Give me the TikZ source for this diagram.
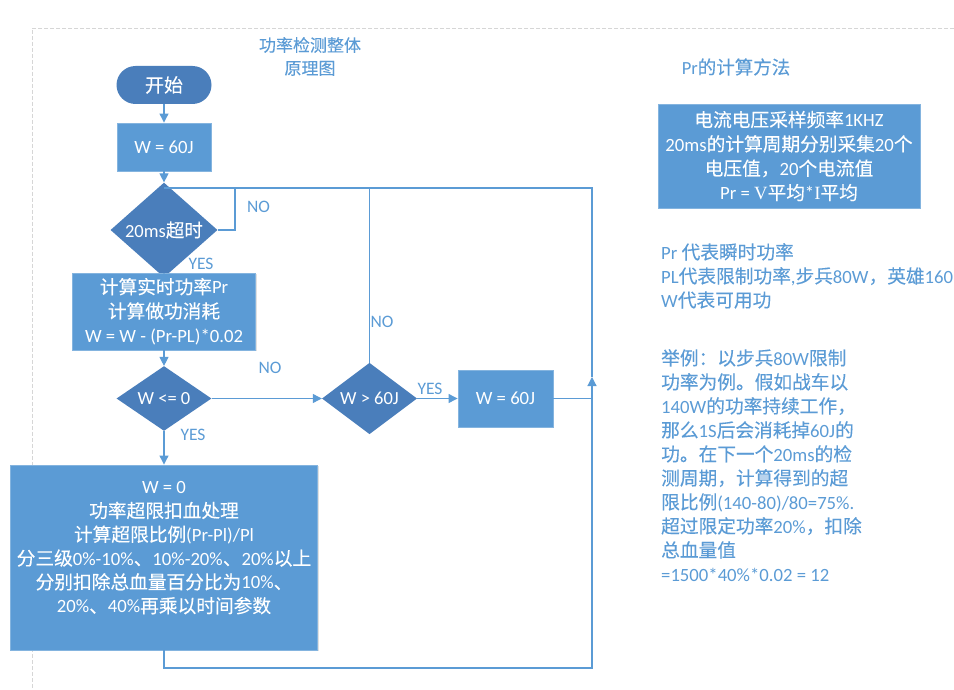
\documentclass[tikz,border=0pt]{standalone}
\usepackage{fontspec}
\usetikzlibrary{shapes.geometric,arrows.meta,shadows}
\setmainfont{Carlito}
\newfontfamily\cjk{Noto Sans CJK SC}[FakeBold=0.2]
\newfontfamily\latinf{Carlito}
\newfontfamily\serifl{Liberation Serif}
\XeTeXinterchartokenstate=1
\newXeTeXintercharclass\cjkcls
\newcount\cjkcnt
\def\setcjkrange#1#2{\cjkcnt=#1\relax\loop\XeTeXcharclass\cjkcnt=\cjkcls\relax\ifnum\cjkcnt<#2\relax\advance\cjkcnt by 1\relax\repeat}
\setcjkrange{"4E00}{"9FFF}
\setcjkrange{"3000}{"303F}
\setcjkrange{"FF00}{"FFEF}
\XeTeXinterchartoks 0 \cjkcls = {\cjk}
\XeTeXinterchartoks 4095 \cjkcls = {\cjk}
\XeTeXinterchartoks \cjkcls 0 = {\latinf}
\XeTeXinterchartoks \cjkcls 4095 = {\latinf}
\definecolor{boxblue}{HTML}{5B9BD5}
\definecolor{darkblue}{HTML}{4A7EBB}
\definecolor{lineblue}{HTML}{5B9BD5}
\definecolor{txtblue}{HTML}{5B9BD5}
\definecolor{framegray}{HTML}{D6D6D6}
\tikzset{
  proc/.style={rectangle, fill=boxblue, draw=boxblue!75!white, line width=0.9pt,
    text=white, font=\latinf\fontsize{18.7}{24.3}\selectfont, align=center, inner sep=0pt,
    drop shadow={shadow xshift=1.2pt, shadow yshift=-1.2pt, fill=black, opacity=0.12}},
  boxtxt/.style={text=white, font=\latinf\fontsize{18.7}{23.8}\selectfont, align=center, inner sep=0pt},
  dec/.style={diamond, fill=darkblue, draw=none, text=white,
    font=\latinf\fontsize{18.5}{22}\selectfont, inner sep=0pt},
  term/.style={rectangle, rounded corners=19pt, fill=darkblue, draw=none, text=white,
    font=\latinf\fontsize{19}{22}\selectfont, inner sep=0pt},
  conn/.style={draw=lineblue, line width=1.2pt},
  arr/.style={conn, -{Triangle[length=9pt,width=9pt]}},
  lbl/.style={text=txtblue, font=\latinf\fontsize{17.5}{20}\selectfont, inner sep=0pt},
  note/.style={text=txtblue, font=\latinf\fontsize{18.7}{24}\selectfont, align=left,
    inner sep=0pt, anchor=north west},
  ttl/.style={text=txtblue, font=\latinf\fontsize{17}{23}\selectfont, align=center, inner sep=0pt},
  frame/.style={draw=framegray, line width=0.8pt, dash pattern=on 4pt off 2pt}
}
\begin{document}
\begin{tikzpicture}[x=1pt,y=-1pt]
\useasboundingbox (0,0) rectangle (954,690);
\draw[frame] (954,28) -- (32,28) -- (32,690);

% titles
\node[ttl] (title) at (310,56.5) {功率检测整体\\原理图};
\node[ttl, font=\latinf\fontsize{18.5}{23}\selectfont] (prtitle) at (736,67) {Pr的计算方法};

% flowchart nodes
\node[term, minimum width=95pt, minimum height=38pt] (start) at (164,85) {开始};
\node[proc, minimum width=94pt, minimum height=48pt] (w1) at (164,147) {W = 60J};
\node[dec, minimum width=107pt, minimum height=60pt] (d1) at (164,230) {20ms超时};
\node[proc, minimum width=183pt, minimum height=77pt] (p1) at (164,311.5)
  {计算实时功率Pr\\计算做功消耗\\W = W - (Pr-PL)*0.02};
\node[dec, minimum width=95pt, minimum height=57pt] (d2) at (164,398.5) {W <= 0};
\node[dec, minimum width=95pt, minimum height=58pt] (d3) at (369.5,398.5) {W > 60J};
\node[proc, minimum width=95pt, minimum height=57pt] (w2) at (505.5,398.5) {W = 60J};
\node[proc, minimum width=307pt, minimum height=185pt] (b5) at (164,557.5) {};
\node[boxtxt] (b5t) at (164,548)
  {W = 0\\功率超限扣血处理\\计算超限比例(Pr-Pl)/Pl\\分三级0\%-10\%、10\%-20\%、20\%以上\\分别扣除总血量百分比为10\%、\\20\%、40\%再乘以时间参数};

% right side
\node[proc, minimum width=262pt, minimum height=104pt] (prb) at (789,156)
  {电流电压采样频率1KHZ\\20ms的计算周期分别采集20个\\电压值，20个电流值\\Pr = {\serifl V}平均*{\serifl I}平均};
\node[note] (n1) at (661,243) {Pr 代表瞬时功率\\PL代表限制功率,步兵80W，英雄160\\W代表可用功};
\node[note] (n2) at (661,349) {举例：以步兵80W限制\\功率为例。假如战车以\\140W的功率持续工作，\\那么1S后会消耗掉60J的\\功。在下一个20ms的检\\测周期，计算得到的超\\限比例(140-80)/80=75\%.\\超过限定功率20\%，扣除\\总血量值\\=1500*40\%*0.02 = 12};

% coordinates
\coordinate (j1) at (164,188);
\coordinate (jn) at (235,188);
\coordinate (jr) at (592,188);
\coordinate (jb) at (592,668);
\coordinate (ja) at (592,377);

% connectors
\draw[arr] (start) -- (w1);
\draw[arr] (w1) -- (d1);
\draw[conn] (d1.east) -| (jn);
\draw[arr] (d1) -- (p1);
\draw[arr] (p1) -- (d2);
\draw[arr] (d2) -- (d3);
\draw[conn] (d3.north) -- (d3.north |- j1);
\draw[arr] (d3) -- (w2);
\draw[conn] (w2.east) -- (w2.east -| jr);
\draw[arr] (d2) -- (b5);
\draw[arr] (b5.south) |- (jb) -- (ja);
\draw[conn] (ja) -- (jr) -- (j1);

% labels
\node[lbl] (no1) at (258.5,207) {NO};
\node[lbl] (yes1) at (201,264) {YES};
\node[lbl] (no2) at (270,368) {NO};
\node[lbl] (no3) at (382,322) {NO};
\node[lbl] (yes2) at (430,389) {YES};
\node[lbl] (yes3) at (193,435) {YES};
\end{tikzpicture}
\end{document}
